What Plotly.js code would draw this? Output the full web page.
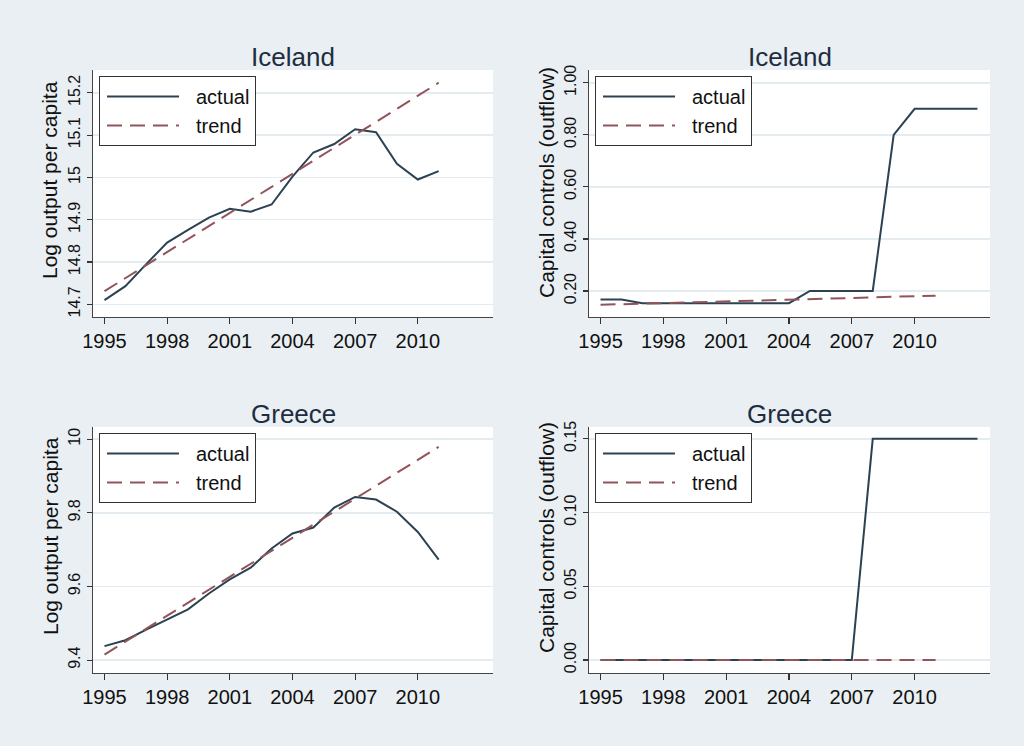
<!DOCTYPE html>
<html>
<head>
<meta charset="utf-8">
<script src="https://cdn.plot.ly/plotly-3.0.1.min.js"></script>
<style>
  html, body { margin: 0; padding: 0; background: #e9eff2; }
  #chart { width: 1024px; height: 746px; }
</style>
</head>
<body>
<div id="chart"></div>
<script>
// ---------------- data ----------------
const years = [1995,1996,1997,1998,1999,2000,2001,2002,2003,2004,2005,2006,2007,2008,2009,2010,2011];
const capYears = [1995,1996,1997,1998,1999,2000,2001,2002,2003,2004,2005,2006,2007,2008,2009,2010,2011,2012,2013];

const iceOutputActual = [14.710,14.743,14.795,14.846,14.876,14.905,14.926,14.919,14.936,15.002,15.059,15.079,15.114,15.107,15.032,14.995,15.015];
const iceOutputTrend  = [14.731,14.762,14.793,14.823,14.854,14.885,14.916,14.947,14.977,15.008,15.039,15.070,15.101,15.131,15.162,15.193,15.224];

const iceCapActual = [0.167,0.167,0.153,0.153,0.153,0.153,0.153,0.153,0.153,0.153,0.200,0.200,0.200,0.200,0.800,0.900,0.900,0.900,0.900];
const iceCapTrend  = [0.147,0.149,0.151,0.154,0.156,0.158,0.160,0.162,0.164,0.167,0.169,0.171,0.173,0.175,0.178,0.180,0.182];

const greOutputActual = [9.438,9.454,9.483,9.510,9.538,9.581,9.619,9.651,9.703,9.744,9.760,9.814,9.843,9.836,9.803,9.748,9.673];
const greOutputTrend  = [9.415,9.450,9.486,9.521,9.556,9.591,9.627,9.662,9.697,9.732,9.768,9.803,9.838,9.873,9.909,9.944,9.979];

const greCapActual = [0,0,0,0,0,0,0,0,0,0,0,0,0,0.15,0.15,0.15,0.15,0.15,0.15];
const greCapTrend  = [0,0,0,0,0,0,0,0,0,0,0,0,0,0,0,0,0];

const xTickVals = [1995,1998,2001,2004,2007,2010];
const xTickText = ["1995","1998","2001","2004","2007","2010"];

const y1TickVals = [14.7,14.8,14.9,15.0,15.1,15.2];
const y1TickText = ["14.7","14.8","14.9","15","15.1","15.2"];
const y2TickVals = [0.2,0.4,0.6,0.8,1.0];
const y2TickText = ["0.20","0.40","0.60","0.80","1.00"];
const y3TickVals = [9.4,9.6,9.8,10];
const y3TickText = ["9.4","9.6","9.8","10"];
const y4TickVals = [0,0.05,0.10,0.15];
const y4TickText = ["0.00","0.05","0.10","0.15"];

const panelTitles = ["Iceland","Iceland","Greece","Greece"];
const seriesNames = ["actual","trend"];
const yTitles = ["Log output per capita","Capital controls (outflow)","Log output per capita","Capital controls (outflow)"];

// ---------------- style ----------------
const actualColor = "#2c4252";
const trendColor = "#91545a";
const bg = "#e9eff2";
const font = "Liberation Sans, Arial, sans-serif";

function actual(x, y, n) {
  return {x: x, y: y, type: "scatter", mode: "lines", name: seriesNames[0],
          xaxis: "x" + (n === 1 ? "" : n), yaxis: "y" + (n === 1 ? "" : n),
          legend: n === 1 ? "legend" : "legend" + n,
          line: {color: actualColor, width: 2}};
}
function trend(x, y, n) {
  return {x: x, y: y, type: "scatter", mode: "lines", name: seriesNames[1],
          xaxis: "x" + (n === 1 ? "" : n), yaxis: "y" + (n === 1 ? "" : n),
          legend: n === 1 ? "legend" : "legend" + n,
          line: {color: trendColor, width: 2, dash: "15px,8px"}};
}

const data = [
  actual(years, iceOutputActual, 1), trend(years, iceOutputTrend, 1),
  actual(capYears, iceCapActual, 2), trend(years, iceCapTrend, 2),
  actual(years, greOutputActual, 3), trend(years, greOutputTrend, 3),
  actual(capYears, greCapActual, 4), trend(years, greCapTrend, 4)
];

const W = 1024, H = 746;
const colX = [[93, 493], [589, 990]];
const rowY = [[70, 317], [427, 673]];
const yTitleX = [50, 546];
const yTitleY = [[180, 183], [536, 538]];
function dx(c) { return [colX[c][0] / W, colX[c][1] / W]; }
function dy(r) { return [1 - rowY[r][1] / H, 1 - rowY[r][0] / H]; }

function xaxis(c, r, anchor) {
  return {
    domain: dx(c), anchor: anchor, range: [1994.45, 2013.6],
    tickvals: xTickVals, ticktext: xTickText,
    ticks: "outside", ticklen: 6, tickwidth: 1.2, tickcolor: "#333",
    showline: true, linecolor: "#444", linewidth: 1.3, mirror: false,
    showgrid: false, zeroline: false,
    tickfont: {family: font, size: 20, color: "#111"}
  };
}
function yaxis(c, r, anchor, range, tv, tt) {
  return {
    domain: dy(r), anchor: anchor, range: range,
    tickvals: tv, ticktext: tt, tickangle: -90,
    ticks: "outside", ticklen: 5, tickwidth: 1.2, tickcolor: "#333",
    showline: true, linecolor: "#444", linewidth: 1.3, mirror: false,
    showgrid: true, gridcolor: "#e4ecef", gridwidth: 1.5, zeroline: false,
    tickfont: {family: font, size: 16, color: "#111"}
  };
}
function legend(c, r) {
  return {
    x: (colX[c][0] + 6) / W, y: 1 - (rowY[r][0] + 6) / H,
    xanchor: "left", yanchor: "top",
    bgcolor: "#ffffff", bordercolor: "#333", borderwidth: 1,
    font: {family: font, size: 20, color: "#111"},
    itemwidth: 86, tracegroupgap: 0
  };
}

const titleAnns = panelTitles.map(function (t, i) {
  const c = i % 2, r = Math.floor(i / 2);
  return {text: t, xref: "paper", yref: "paper",
          x: (colX[c][0] + colX[c][1]) / 2 / W, y: 1 - (rowY[r][0] - 13) / H,
          xanchor: "center", yanchor: "middle", showarrow: false,
          font: {family: font, size: 26, color: "#1e2d40"}};
});
const yTitleAnns = yTitles.map(function (t, i) {
  const c = i % 2, r = Math.floor(i / 2);
  return {text: t, xref: "paper", yref: "paper",
          x: yTitleX[c] / W, y: 1 - yTitleY[r][c] / H,
          xanchor: "center", yanchor: "middle", showarrow: false, textangle: -90,
          font: {family: font, size: 21, color: "#111"}};
});

const layout = {
  width: W, height: H,
  paper_bgcolor: bg, plot_bgcolor: "#ffffff",
  margin: {l: 0, r: 0, t: 0, b: 0},
  showlegend: true,
  xaxis: xaxis(0, 0, "y"),
  yaxis: yaxis(0, 0, "x", [14.67, 15.254], y1TickVals, y1TickText),
  xaxis2: xaxis(1, 0, "y2"),
  yaxis2: yaxis(1, 0, "x2", [0.10, 1.049], y2TickVals, y2TickText),
  xaxis3: xaxis(0, 1, "y3"),
  yaxis3: yaxis(0, 1, "x3", [9.365, 10.033], y3TickVals, y3TickText),
  xaxis4: xaxis(1, 1, "y4"),
  yaxis4: yaxis(1, 1, "x4", [-0.0088, 0.158], y4TickVals, y4TickText),
  legend: legend(0, 0),
  legend2: legend(1, 0),
  legend3: legend(0, 1),
  legend4: legend(1, 1),
  annotations: titleAnns.concat(yTitleAnns)
};

Plotly.newPlot("chart", data, layout, {displayModeBar: false, staticPlot: true}).then(function (gd) {
  gd.querySelectorAll(".legendlines path").forEach(function (p) {
    p.setAttribute("d", "M7,0h72");
  });
});
</script>
</body>
</html>
